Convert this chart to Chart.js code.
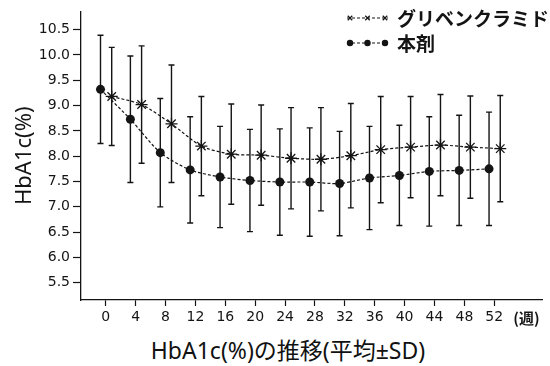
<!DOCTYPE html>
<html lang="ja">
<head>
<meta charset="utf-8">
<title>HbA1c(%)の推移</title>
<script src="https://cdn.jsdelivr.net/npm/chart.js@4.4.1/dist/chart.umd.min.js"></script>
<style>
  html, body { margin: 0; padding: 0; background: #fff; }
  #wrap { position: relative; width: 550px; height: 366px; }
  #caption {
    position: absolute; left: 0; top: 336px; width: 576px;
    text-align: center; color: #111;
    font: 23px/28px 'Noto Sans', 'Noto Sans CJK JP', sans-serif;
  }
</style>
</head>
<body>
<div id="wrap">
  <canvas id="hba1cChart" width="550" height="332"></canvas>
  <div id="caption">HbA1c(%)の推移(平均±SD)</div>
</div>
<script>
// Semaines de mesure
const weeks = [0, 4, 8, 12, 16, 20, 24, 28, 32, 36, 40, 44, 48, 52];
const unitLabel = '(週)';
const unitTickPos = 56.3;

// グリベンクラミド (moyenne / SD)
const glibMean = [9.18, 9.02, 8.64, 8.20, 8.04, 8.02, 7.96, 7.94, 8.01, 8.13, 8.18, 8.22, 8.18, 8.15];
const glibSD   = [0.97, 1.16, 1.16, 0.98, 0.99, 0.99, 1.00, 1.02, 1.03, 1.05, 1.00, 1.00, 1.01, 1.05];

// 本剤 (moyenne / SD)
const drugMean = [9.32, 8.73, 8.07, 7.73, 7.59, 7.52, 7.49, 7.49, 7.46, 7.57, 7.62, 7.70, 7.72, 7.75];
const drugSD   = [1.07, 1.25, 1.07, 1.05, 1.00, 1.01, 1.05, 1.07, 1.03, 1.02, 0.99, 1.08, 1.09, 1.12];

const yTicks = [5.5, 6.0, 6.5, 7.0, 7.5, 8.0, 8.5, 9.0, 9.5, 10.0, 10.5];

// décalage horizontal des deux séries autour de chaque semaine
const DRUG_SHIFT = -0.7;
const GLIB_SHIFT = 0.8;

const ink = '#141414';

// Barres d'erreur (moyenne ± SD)
const errorBars = {
    id: 'errorBars',
    beforeDatasetsDraw(chart) {
        const ctx = chart.ctx;
        const yScale = chart.scales.y;
        chart.data.datasets.forEach((ds, i) => {
            const meta = chart.getDatasetMeta(i);
            ctx.save();
            ctx.strokeStyle = ink;
            ctx.lineWidth = 1.4;
            meta.data.forEach((pt, j) => {
                const top = yScale.getPixelForValue(ds.data[j].y + ds.sd[j]);
                const bottom = yScale.getPixelForValue(ds.data[j].y - ds.sd[j]);
                ctx.beginPath();
                ctx.moveTo(pt.x, top);
                ctx.lineTo(pt.x, bottom);
                ctx.moveTo(pt.x - 3, top);
                ctx.lineTo(pt.x + 3, top);
                ctx.moveTo(pt.x - 3, bottom);
                ctx.lineTo(pt.x + 3, bottom);
                ctx.stroke();
            });
            ctx.restore();
        });
    }
};

// Légende dans la zone du graphique, en haut à droite
const insideLegend = {
    id: 'insideLegend',
    afterDraw(chart) {
        const ctx = chart.ctx;
        const x0 = 347, x1 = 388, textX = 397;
        chart.data.datasets.forEach((ds, i) => {
            const yy = 18 + i * 25;
            ctx.save();
            ctx.strokeStyle = ink;
            ctx.fillStyle = ink;
            ctx.lineWidth = 1.2;
            ctx.setLineDash([3, 2]);
            ctx.beginPath();
            ctx.moveTo(x0, yy);
            ctx.lineTo(x1, yy);
            ctx.stroke();
            ctx.setLineDash([]);
            [x0 + 3, (x0 + x1) / 2, x1 - 3].forEach(px => {
                const r = ds.pointStyle === 'circle' ? 2.6 : 3.2;
                if (Chart.helpers && Chart.helpers.drawPoint) {
                    Chart.helpers.drawPoint(ctx, { pointStyle: ds.pointStyle === 'star' ? 'crossRot' : ds.pointStyle, radius: r, borderWidth: 1.2, rotation: 0 }, px, yy);
                } else {
                    ctx.beginPath();
                    ctx.arc(px, yy, r, 0, Math.PI * 2);
                    ctx.fill();
                }
            });
            ctx.font = "bold 19px 'Noto Sans CJK JP', sans-serif";
            ctx.textBaseline = 'middle';
            ctx.textAlign = 'left';
            ctx.fillText(ds.label, textX, yy + 1);
            ctx.restore();
        });
    }
};

const tickFont = { family: "'DejaVu Sans', 'Noto Sans CJK JP', sans-serif", size: 14 };
const unitFont = { family: "'Noto Sans CJK JP', sans-serif", size: 15, weight: 'bold' };

new Chart(document.getElementById('hba1cChart'), {
    type: 'line',
    data: {
        datasets: [
            {
                label: 'グリベンクラミド',
                data: weeks.map((w, i) => ({ x: w + GLIB_SHIFT, y: glibMean[i] })),
                sd: glibSD,
                borderColor: ink,
                backgroundColor: ink,
                borderWidth: 1.2,
                borderDash: [3, 2],
                tension: 0.25,
                pointStyle: 'star',
                pointRadius: 6,
                pointBorderWidth: 1.3,
                pointBorderColor: ink
            },
            {
                label: '本剤',
                data: weeks.map((w, i) => ({ x: w + DRUG_SHIFT, y: drugMean[i] })),
                sd: drugSD,
                borderColor: ink,
                backgroundColor: ink,
                borderWidth: 1.2,
                borderDash: [3, 2],
                tension: 0.25,
                pointStyle: 'circle',
                pointRadius: 4.5,
                pointBorderWidth: 0,
                pointBackgroundColor: ink
            }
        ]
    },
    options: {
        responsive: false,
        animation: false,
        devicePixelRatio: 1,
        layout: { padding: { top: 1, right: 2, left: 0, bottom: 0 } },
        plugins: {
            legend: { display: false },
            tooltip: { enabled: false }
        },
        scales: {
            x: {
                type: 'linear',
                min: -3.31,
                max: 58.48,
                afterBuildTicks: (scale) => {
                    scale.ticks = weeks.map(v => ({ value: v })).concat([{ value: unitTickPos }]);
                },
                afterFit: (scale) => { scale.height = 32; },
                ticks: {
                    autoSkip: false,
                    maxRotation: 0,
                    color: ink,
                    font: (c) => (c.tick && c.tick.value > 52) ? unitFont : tickFont,
                    padding: 3,
                    callback: (value) => value === unitTickPos ? unitLabel : String(value)
                },
                grid: {
                    drawOnChartArea: false,
                    tickLength: 6,
                    tickWidth: 1.2,
                    tickColor: (c) => (c.tick && c.tick.value > 52) ? 'rgba(0,0,0,0)' : ink
                },
                border: { color: ink, width: 1.3 }
            },
            y: {
                min: 5.16,
                max: 10.86,
                afterBuildTicks: (scale) => {
                    scale.ticks = yTicks.map(v => ({ value: v }));
                },
                afterFit: (scale) => { scale.width = 81; },
                ticks: {
                    color: ink,
                    font: tickFont,
                    padding: 3,
                    callback: (value) => Number(value).toFixed(1)
                },
                grid: {
                    drawOnChartArea: false,
                    tickLength: 8,
                    tickWidth: 1.2,
                    tickColor: ink
                },
                border: { color: ink, width: 1.3 },
                title: {
                    display: true,
                    text: 'HbA1c(%)',
                    color: ink,
                    font: { family: "'Noto Sans', sans-serif", size: 22 },
                    padding: { top: 12, bottom: 0 }
                }
            }
        }
    },
    plugins: [errorBars, insideLegend]
});
</script>
</body>
</html>
